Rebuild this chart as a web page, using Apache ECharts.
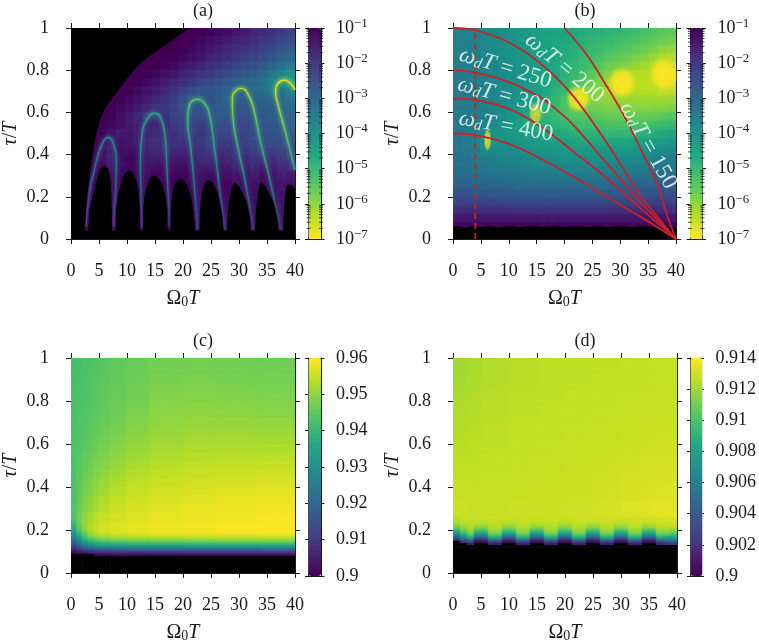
<!DOCTYPE html>
<html><head><meta charset="utf-8">
<style>html,body{margin:0;padding:0;background:#fff}#c{width:759px;height:644px}</style>
<script src="https://cdn.jsdelivr.net/npm/echarts@6/dist/echarts.min.js"></script>
</head><body><div id="c"></div>
<script>
// ---------- DATA ----------
const titles=['(a)','(b)','(c)','(d)'];
// common column edges of panels a and b
const xEdgesAB=[0,1.6,3.2,4.8,6.4,8,9.6,11.2,12.8,14.4,16,17.6,19.2,20.8,22.4,24,25.6,27.2,28.8,30.4,32,33.6,35.2,36.8,38.4,40];
const tauEdgesAB=[1,.96,.92,.88,.84,.8,.76,.72,.68,.64,.6,.56,.52,.48,.44,.4,.36,.32,.28,.24,.2,.16,.12,.08,.04,0];
// panel a: -log10(value) times ten, top row first (under 10 = over the scale, covered by the black regions below)
const rowsA=[
[5,5,5,5,5,5,5,5,5,5,5,5,5,10,10,11,12,13,14,15,17,18,19,20,22],
[5,5,5,5,5,5,5,5,5,5,5,5,10,11,12,13,14,15,16,17,18,20,21,23,24],
[5,5,5,5,5,5,5,5,5,5,5,10,11,12,13,14,15,17,18,19,20,22,23,25,27],
[5,5,5,5,5,5,5,5,5,10,10,11,12,13,14,16,17,18,20,21,22,24,26,28,30],
[5,5,5,5,5,5,5,5,10,10,11,12,14,15,16,18,19,21,22,24,25,27,29,31,33],
[5,5,5,5,5,5,5,10,11,12,13,14,16,17,19,20,22,23,25,27,28,30,33,37,40],
[5,5,5,5,5,5,10,11,12,14,15,17,18,20,22,23,25,27,29,30,31,33,38,44,46],
[5,5,5,5,5,10,11,12,14,15,17,19,21,23,26,26,27,30,33,30,32,33,37,35,38],
[5,5,5,5,5,11,12,14,15,17,19,21,25,29,30,26,27,31,31,28,30,30,31,32,34],
[5,5,5,5,10,12,13,15,17,19,20,22,26,27,27,27,28,29,27,27,28,29,29,30,31],
[5,5,5,5,11,13,15,18,22,24,19,23,24,27,25,25,29,28,26,27,27,28,29,31,30],
[5,5,5,10,12,13,15,17,18,18,17,21,23,24,22,24,25,25,25,24,26,28,27,28,30],
[5,5,5,11,14,16,15,16,17,18,18,20,21,23,20,22,24,24,24,23,25,27,26,27,28],
[5,5,5,12,16,14,15,16,18,19,19,20,21,20,21,23,23,22,22,23,24,26,26,25,26],
[5,5,10,13,18,13,14,14,17,19,19,18,18,18,20,22,20,20,21,21,24,23,23,24,24],
[5,5,10,14,18,13,12,13,16,17,17,16,16,16,19,20,17,18,20,18,21,20,20,22,22],
[5,5,10,12,16,14,12,13,15,14,14,14,13,15,17,17,14,16,18,16,19,16,17,19,19],
[5,5,11,10,14,12,11,12,14,11,13,12,12,13,15,13,13,14,15,14,17,13,15,17,15],
[5,5,11,10,13,11,10,11,13,11,11,11,11,12,14,12,12,12,14,13,15,12,13,15,14],
[5,5,11,10,13,12,10,11,13,11,10,11,11,11,14,11,11,12,14,12,14,11,12,15,12],
[5,5,12,10,13,12,10,12,14,10,10,12,12,10,14,12,10,12,14,12,14,11,11,15,11],
[5,5,13,10,13,12,10,12,15,10,10,13,14,10,14,12,10,13,14,12,14,11,11,15,11],
[5,5,14,10,12,12,10,13,15,10,10,14,14,10,15,12,10,14,14,12,14,10,10,15,10],
[5,5,14,10,12,12,10,13,14,10,10,13,13,10,14,11,10,13,13,11,13,10,10,14,10],
[5,5,5,5,5,5,5,5,5,5,5,5,5,5,5,5,5,5,5,5,5,5,5,5,5]];
// panel a: black regions and bright ridges, [Omega0 T, tau/T]
const blackTopA=[[0,0],[2.4,0],[2.5,.05],[2.9,.2],[3.55,.34],[4.2,.46],[5.05,.55],[5.95,.61],[7.2,.66],[9.5,.74],[12.3,.83],[15,.885],[18,.94],[21.8,1],[22,1]];
const domesA=[[0,.04],[2.9,.04],[3.27,.137],[4.05,.218],[4.76,.295],[5.35,.337],[5.96,.35],[6.55,.335],[6.96,.295],[7.2,.218],[7.3,.137],[7.4,.04],[8,.04],[8.05,.137],[8.5,.218],[9.2,.285],[9.8,.315],[10.4,.325],[11,.315],[11.7,.27],[12.1,.218],[12.3,.137],[12.4,.04],[12.8,.04],[12.9,.137],[13.2,.218],[13.8,.27],[14.4,.295],[14.9,.3],[15.5,.29],[16.2,.26],[16.8,.218],[17.2,.137],[17.3,.04],[17.7,.04],[17.8,.137],[18.1,.218],[18.6,.26],[19.2,.28],[19.6,.285],[20.3,.275],[21,.24],[21.6,.18],[22.1,.08],[22.2,.04],[22.9,.04],[23,.13],[23.3,.2],[23.8,.26],[24.5,.28],[25.2,.27],[26,.23],[26.6,.17],[27.1,.1],[27.3,.04],[27.8,.04],[27.9,.1],[28.2,.17],[28.7,.24],[29.2,.267],[30,.25],[30.8,.21],[31.4,.17],[32,.1],[32.2,.04],[32.8,.04],[33,.12],[33.3,.2],[33.9,.265],[34.7,.25],[35.7,.2],[36.4,.16],[36.9,.09],[37.2,.04],[37.8,.04],[37.9,.09],[38.1,.17],[38.4,.24],[38.8,.26],[39.5,.255],[40,.245]];
const ridge1=[[2.68,.058],[3.27,.216],[4.17,.327],[5.36,.438],[6.73,.482],[7.62,.446],[8.1,.374],[8.04,.264],[7.74,.138],[7.62,.058]];
const ridge2=[[12.62,.058],[12.5,.216],[12.4,.374],[12.7,.5],[13.7,.572],[14.88,.596],[16.07,.572],[16.85,.469],[17.14,.327],[17.38,.2],[17.56,.058]];
const ridge3=[[22.6,.043],[22.03,.248],[21.43,.422],[20.83,.564],[21.07,.628],[22.6,.662],[24.05,.635],[24.82,.58],[25.6,.438],[26.49,.248],[27.5,.043]];
const ridge4=[[32.56,.043],[31.07,.28],[29.88,.422],[28.87,.596],[28.81,.667],[29.58,.706],[30.48,.714],[31.67,.683],[32.74,.604],[33.75,.47],[35.24,.311],[36.43,.17],[37.5,.043]];
const ridge5=[[39.99,.327],[38.2,.516],[36.9,.643],[36.54,.698],[37,.738],[38.1,.753],[39.1,.74],[40,.706]];
const ridgeColors=[['#2a8a8c','#35608d','#5a2e8f'],['#27a884','#2a788e','#4b2d87'],['#5ac864','#26a085','#2a6f8e','#4b2d87'],['#b5de2b','#3fbc73','#277f8e','#482878'],['#f0e51e','#6ece58','#2a9a8a']];
// panel b: same encoding as panel a
const rowsB=[
[37,37,38,38,39,40,41,42,43,44,45,45,46,46,47,48,48,49,49,50,51,52,53,54,55],
[36,37,38,38,39,40,41,42,43,44,45,46,46,47,48,49,50,50,51,52,53,54,55,56,57],
[36,37,37,38,39,40,41,42,43,44,45,46,47,48,49,50,51,52,53,54,55,56,57,59,60],
[36,36,37,38,39,40,41,42,43,44,45,46,47,48,50,51,52,54,55,56,57,58,60,62,63],
[36,36,37,37,38,39,40,41,43,44,45,46,48,49,51,52,54,56,57,58,60,61,63,65,66],
[35,36,36,37,38,39,40,41,42,44,45,46,48,50,52,54,56,58,60,62,63,63,64,66,67],
[35,35,36,37,38,39,40,41,42,44,45,47,49,51,54,56,58,61,64,65,64,64,64,66,67],
[35,35,36,37,38,39,40,41,43,44,46,48,50,53,56,58,60,62,64,64,64,64,64,65,65],
[35,35,36,37,38,39,40,42,43,45,47,49,52,57,60,60,60,61,62,62,62,62,62,62,62],
[35,35,36,37,38,39,41,42,44,47,49,50,53,57,58,58,58,59,59,60,60,60,60,60,59],
[35,35,36,37,38,40,41,43,46,50,50,51,53,55,55,55,56,57,57,57,57,57,57,56,55],
[35,35,36,37,38,41,42,44,47,49,48,49,51,52,53,53,53,54,54,54,54,54,53,52,51],
[34,35,36,38,40,41,42,44,45,46,46,47,48,49,50,50,50,51,51,51,50,50,49,48,46],
[34,35,37,41,43,41,41,42,43,44,44,45,45,46,47,47,47,47,47,47,46,46,45,44,42],
[34,35,36,40,40,40,40,41,41,42,42,43,43,43,43,43,43,43,43,43,42,42,41,40,39],
[33,34,35,36,37,38,38,39,39,40,40,40,41,41,41,41,41,41,40,40,40,39,38,37,36],
[33,33,34,35,36,36,37,37,38,38,38,38,39,39,39,39,38,38,38,38,37,37,36,35,34],
[32,32,33,33,34,34,35,35,35,36,36,36,36,36,36,36,36,36,35,35,35,34,33,33,32],
[30,30,31,31,32,32,32,33,33,33,33,33,33,33,33,33,33,33,32,32,32,31,31,30,29],
[27,27,28,28,29,29,29,29,30,30,30,30,30,30,30,30,30,29,29,29,28,28,28,27,27],
[24,24,25,25,25,26,26,26,26,26,26,26,26,26,26,26,26,26,25,25,25,25,24,24,24],
[20,20,21,21,21,21,21,22,22,22,22,22,22,22,22,22,22,21,21,21,21,21,20,20,20],
[15,15,15,16,16,16,16,16,16,16,16,16,16,16,16,16,16,16,16,16,16,15,15,15,15],
[11,11,11,11,11,11,11,11,11,11,11,11,11,11,11,11,11,11,11,11,11,11,11,11,11],
[5,5,5,5,5,5,5,5,5,5,5,5,5,5,5,5,5,5,5,5,5,5,5,5,5]];
const blackB=[[0,.058],[1,.06],[2.2,.055],[3.5,.062],[5,.056],[6.5,.062],[8,.056],[10,.062],[12,.056],[14,.062],[16,.057],[18,.062],[20,.057],[22,.062],[24,.057],[26,.062],[28,.057],[30,.062],[32,.057],[34,.062],[36,.057],[38,.06],[40,.055]];
const blobsB=[[30.3,.74,30,33,1],[37.8,.78,30,36,1],[22.5,.665,26,28,.9],[14.8,.595,14,24,.7],[6.2,.47,8,24,.8]];
const curve150=[[20,1],[24,.873],[27.6,.723],[30.6,.588],[33.6,.43],[36.6,.264],[38.3,.12],[40,0]];
const curve200=[[0,1],[4,.989],[9.7,.936],[15.6,.834],[21.6,.676],[27.6,.455],[33.6,.209],[40,0]];
const curve250=[[0,.8],[3.7,.79],[9.7,.747],[15.6,.672],[18.6,.612],[21.6,.54],[27.6,.358],[33.6,.176],[40,0]];
const curve300=[[0,.665],[3.7,.66],[9.7,.62],[15.6,.536],[21.6,.414],[27.6,.288],[33.6,.146],[40,0]];
const curve400=[[0,.5],[3.7,.494],[9.7,.454],[15.6,.383],[21.6,.296],[27.6,.2],[33.6,.106],[40,0]];
const dashedB=[[4,0],[4,1]];
const labelsB=[[35,.443,-61,'150'],[20,.81,-40,'200'],[9.4,.81,-17,'250'],[9.2,.677,-15,'300'],[9.5,.533,-10,'400']];
// panel c: (value - 0.9) * 10000, top row first (negative = under the scale = black)
const xEdgesC=[0,1,2,3,4,5,7,10,14,20,26,33,40];
const tauEdgesCUpper=[1,.96,.92,.88,.84,.8,.76,.72,.68,.64,.6,.56,.52,.48,.44,.4,.36,.32,.28,.24];
const rowsCUpper=[
[422,426,430,434,438,444,452,462,472,476,472,468],
[423,427,431,435,439,445,454,464,475,478,475,471],
[424,428,432,436,440,447,456,467,478,481,478,475],
[425,429,433,437,442,449,458,470,482,485,482,479],
[426,431,435,439,444,451,460,473,487,489,487,483],
[427,432,437,441,446,453,463,477,491,494,492,488],
[428,434,439,444,449,456,467,482,496,499,498,494],
[429,435,441,447,452,460,472,487,501,505,504,501],
[430,437,443,449,456,465,477,492,506,511,511,508],
[431,438,446,453,461,471,484,498,512,518,519,517],
[431,440,449,458,466,477,491,505,519,525,527,526],
[431,442,452,462,472,484,498,513,526,532,535,535],
[431,444,456,467,479,491,506,521,534,540,544,545],
[430,446,460,473,486,499,515,530,542,549,553,555],
[429,448,465,480,494,508,524,539,550,557,562,565],
[428,452,470,487,502,516,533,548,558,565,570,574],
[428,456,477,496,511,525,542,556,566,572,578,582],
[428,462,486,505,520,534,550,564,573,579,584,588],
[424,466,497,518,534,547,560,571,579,584,589,593]];
const tauEdgesCLower=[.24,.23,.22,.21,.2,.19,.18,.17,.16,.15,.14,.13,.12,.11,.1,.09,.08,0];
const rowsCLower=[
[415,470,505,530,545,558,568,575,582,588,592,596],
[405,465,505,530,548,560,572,580,586,590,595,598],
[390,455,500,530,550,562,574,582,588,592,597,600],
[375,445,495,528,550,562,575,583,588,592,596,600],
[355,430,485,520,545,558,572,580,585,590,594,597],
[330,410,470,510,535,550,564,572,578,583,588,590],
[300,385,450,495,520,535,550,558,565,570,574,576],
[270,350,425,470,495,510,525,535,540,546,550,552],
[240,315,390,435,460,475,490,498,505,510,515,517],
[205,275,345,390,415,430,445,452,458,464,468,470],
[170,235,295,340,365,380,393,400,405,410,414,416],
[130,190,240,285,310,320,330,335,340,345,348,350],
[90,140,180,220,240,250,255,260,265,268,270,272],
[50,90,120,150,165,172,178,182,185,188,190,192],
[15,30,50,70,85,92,96,100,102,104,105,106],
[-1,-1,-1,-1,15,22,25,25,25,25,25,25],
[-1,-1,-1,-1,-1,-1,-1,-1,-1,-1,-1,-1]];
// panel d: (value - 0.9) * 10000
const xEdgesDUpper=[0,2.5,5,10,15,20,25,30,35,40];
const tauEdgesDUpper=[1,.926,.852,.778,.704,.63,.556,.482,.408,.334,.26];
const rowsDUpper=[
[120,122,124,125,126,126,126,127,127],
[121,122,124,125,126,126,127,127,127],
[122,123,125,126,126,127,127,127,128],
[123,124,125,126,127,127,127,128,128],
[124,125,126,127,127,127,128,128,129],
[125,126,126,127,127,128,128,129,130],
[126,126,127,127,128,128,129,130,131],
[127,127,127,128,128,129,130,131,132],
[128,128,128,128,129,129,130,132,133],
[129,128,128,129,129,130,131,133,134]];
const xEdgesDLower=[0,1.25,2.5,3.75,5,6.25,7.5,8.75,10,11.25,12.5,13.75,15,16.25,17.5,18.75,20,21.25,22.5,23.75,25,26.25,27.5,28.75,30,31.25,32.5,33.75,35,36.25,37.5,38.75,40];
const tauEdgesDLower=[.26,.25,.24,.23,.22,.21,.2,.19,.18,.17,.16,.15,.14,.13,.12,0];
const rowsDLower=[
[126,128,129,128,128,129,129,128,128,129,129,128,128,129,129,129,129,129,130,129,129,130,130,130,130,130,131,130,131,131,132,133],
[124,127,128,128,128,128,128,128,128,128,128,128,128,128,129,128,128,129,129,129,129,129,130,129,130,130,131,130,130,131,131,131],
[122,126,127,126,126,127,127,126,126,127,127,126,126,127,128,126,126,128,128,127,127,128,128,127,128,128,129,128,128,130,130,130],
[118,124,126,123,122,126,126,122,122,126,126,122,122,126,126,122,122,126,127,122,122,127,127,123,123,127,128,123,123,128,128,128],
[112,120,124,118,118,124,124,118,118,124,124,118,118,124,124,118,118,124,124,118,118,124,125,118,119,125,125,119,119,126,126,125],
[104,115,122,111,110,122,122,110,110,121,122,110,111,122,122,110,110,122,122,110,111,122,122,111,111,122,122,111,111,123,122,120],
[90,107,118,99,98,118,118,98,98,118,118,98,98,118,118,98,98,118,118,98,98,118,118,98,98,118,118,98,98,119,118,114],
[74,98,112,85,85,112,112,85,85,112,112,85,85,112,112,85,85,112,112,85,85,112,112,85,85,112,112,86,86,112,112,106],
[60,85,103,68,68,103,103,68,68,103,103,68,68,103,103,68,68,103,103,68,68,103,103,68,68,103,103,68,68,103,101,96],
[44,70,90,50,50,90,90,50,50,90,90,50,50,90,90,50,50,90,90,50,50,90,90,50,50,90,90,50,50,90,85,84],
[22,50,65,25,25,65,65,25,25,65,65,25,25,65,65,25,25,65,65,25,25,65,65,25,25,65,65,25,25,62,66,66],
[-1,22,35,5,5,35,35,5,5,35,35,5,5,35,35,5,5,35,35,5,5,35,35,5,5,35,35,5,5,35,42,46],
[-1,-1,10,-1,-1,10,10,-1,-1,10,10,-1,-1,10,10,-1,-1,10,10,-1,-1,10,10,-1,-1,10,10,-1,-1,12,18,24],
[-1,-1,-1,-1,-1,-1,-1,-1,-1,-1,-1,-1,-1,-1,-1,-1,-1,-1,-1,-1,-1,-1,-1,-1,-1,-1,-1,-1,-1,-1,-1,-1],
[-1,-1,-1,-1,-1,-1,-1,-1,-1,-1,-1,-1,-1,-1,-1,-1,-1,-1,-1,-1,-1,-1,-1,-1,-1,-1,-1,-1,-1,-1,-1,-1]];
const logOffsets=[.301,.477,.602,.699,.778,.845,.903,.954];

// ---------- BUILD ----------
const FONT='"Liberation Serif",serif', INK='#1a1a1a';
const viridis=['#440154','#482475','#414487','#355f8d','#2a788e','#21918c','#22a884','#44bf70','#7ad151','#bddf26','#fde725'];
const layout=[
 {l:71,t:28,w:224,h:211,bl:308.5,bw:12.5,tc:198},
 {l:453,t:28,w:223,h:211,bl:690,bw:12.5,tc:580},
 {l:71,t:358,w:224,h:218,bl:308.5,bw:12.5,tc:198},
 {l:453,t:358,w:224,h:218,bl:690.5,bw:12,tc:580}];
const expVal=n=>-n/10, fidVal=n=>+(0.9+n/10000).toFixed(4);
function cells(xe,te,rows,f){const out=[];rows.forEach((r,j)=>r.forEach((n,i)=>out.push([xe[i],xe[i+1],te[j+1],te[j],f(n)])));return out;}
const heat=[
 cells(xEdgesAB,tauEdgesAB,rowsA,expVal),
 cells(xEdgesAB,tauEdgesAB,rowsB,expVal),
 cells(xEdgesC,tauEdgesCUpper,rowsCUpper,fidVal).concat(cells(xEdgesC,tauEdgesCLower,rowsCLower,fidVal)),
 cells(xEdgesDUpper,tauEdgesDUpper,rowsDUpper,fidVal).concat(cells(xEdgesDLower,tauEdgesDLower,rowsDLower,fidVal))];
const scales=[[-7,-1,1],[-7,-1,1],[.9,.96,.01],[.9,.914,.002]];
const grid=[],xAxis=[],yAxis=[],series=[],visualMap=[],title=[];
const axisLine={show:true,onZero:false,lineStyle:{color:INK,width:1}};
const tick={show:true,length:5,lineStyle:{color:INK,width:1}};
const label={fontFamily:FONT,fontSize:18,color:INK};
const nameRich={i:{fontFamily:FONT,fontSize:20,fontStyle:'italic',color:INK},n:{fontFamily:FONT,fontSize:20,color:INK},s:{fontFamily:FONT,fontSize:14,color:INK,verticalAlign:'bottom',lineHeight:12,padding:[8,0,0,0]}};
layout.forEach((g,k)=>{
  title.push({text:titles[k],left:g.tc,top:g.t-31,textAlign:'center',textStyle:{fontFamily:FONT,fontSize:18,fontWeight:'normal',color:INK}});
  grid.push({left:g.l,top:g.t,width:g.w,height:g.h,show:false});
  const gi=grid.length-1, xi=xAxis.length, yi=yAxis.length;
  xAxis.push({gridIndex:gi,type:'value',min:0,max:40,interval:5,position:'bottom',axisLine,axisTick:tick,splitLine:{show:false},
    axisLabel:{...label,margin:23},name:'{n|Ω}{s|0}{i|T}',nameLocation:'middle',nameGap:50,nameTextStyle:{rich:nameRich}});
  xAxis.push({gridIndex:gi,type:'value',min:0,max:40,interval:5,position:'top',axisLine,axisTick:tick,splitLine:{show:false},axisLabel:{show:false}});
  yAxis.push({gridIndex:gi,type:'value',min:0,max:1,interval:.2,position:'left',axisLine,axisTick:tick,splitLine:{show:false},
    axisLabel:{...label,margin:22},name:'{i|τ}{n|/}{i|T}',nameLocation:'middle',nameGap:50,nameRotate:90,nameTextStyle:{rich:nameRich}});
  yAxis.push({gridIndex:gi,type:'value',min:0,max:1,interval:.2,position:'right',axisLine,axisTick:tick,splitLine:{show:false},axisLabel:{show:false}});
  const refs={xAxisIndex:xi,yAxisIndex:yi};
  const [mn,mx,iv]=scales[k];
  const soft=k<2?1.5:1.1;
  series.push({type:'custom',...refs,z:1,clip:true,data:heat[k],encode:{x:[0,1],y:[2,3]},silent:true,animation:false,
    renderItem(p,api){
      const a=api.coord([api.value(0),api.value(3)]),b=api.coord([api.value(1),api.value(2)]);
      const v=api.value(4), over=v<mn||v>mx;
      // in panel a the exact black outline comes from the area series, so the cells stay purple underneath
      const c=over?(k===0?'#440154':'#000'):api.visual('color');
      const w=b[0]-a[0],h=b[1]-a[1];
      return {type:'rect',shape:{x:a[0],y:a[1],width:w+.6,height:h+.6},style:over?{fill:c}:{fill:c,shadowBlur:Math.min(w,h)*soft,shadowColor:c}};
    }});
  visualMap.push({type:'continuous',seriesIndex:series.length-1,dimension:4,min:mn,max:mx,calculable:false,realtime:false,
    inRange:{color:viridis.slice().reverse().map((c,i,arr)=>k<2?c:arr[arr.length-1-i])},
    left:g.bl,top:g.t,itemWidth:g.bw,itemHeight:g.h,padding:0,text:null,z:1,hoverLink:false});
  // colour bar frame, ticks and labels
  grid.push({left:g.bl,top:g.t,width:g.bw,height:g.h,show:false});
  const bg=grid.length-1,bx=xAxis.length,by=yAxis.length;
  const bFmt=k<2?(v=>'{n|10}{s|−'+Math.abs(Math.round(v))+'}'):(v=>String(+v.toFixed(3)));
  xAxis.push({gridIndex:bg,type:'value',min:0,max:1,position:'bottom',axisLine:{show:true,onZero:false,lineStyle:{color:INK,width:1}},axisTick:{show:false},axisLabel:{show:false},splitLine:{show:false}});
  xAxis.push({gridIndex:bg,type:'value',min:0,max:1,position:'top',axisLine:{show:true,onZero:false,lineStyle:{color:INK,width:1}},axisTick:{show:false},axisLabel:{show:false},splitLine:{show:false}});
  yAxis.push({gridIndex:bg,type:'value',min:mn,max:mx,interval:iv,position:'right',axisLine,axisTick:{show:true,length:3.5,lineStyle:{color:INK}},splitLine:{show:false},
    axisLabel:{...label,margin:15,formatter:bFmt,rich:{n:{fontFamily:FONT,fontSize:18,color:INK,lineHeight:22},s:{fontFamily:FONT,fontSize:13,color:INK,verticalAlign:'top',lineHeight:14}}}});
  yAxis.push({gridIndex:bg,type:'value',min:mn,max:mx,interval:iv,position:'left',axisLine,axisTick:{show:true,length:3.5,lineStyle:{color:INK}},splitLine:{show:false},axisLabel:{show:false}});
  if(k<2){
    const minor=[];
    for(let d=-7;d<-1;d++)logOffsets.forEach(o=>{minor.push([0,d+o]);minor.push([1,d+o]);});
    series.push({type:'scatter',xAxisIndex:bx,yAxisIndex:by,data:minor,symbol:'rect',symbolSize:[4,1],itemStyle:{color:INK},silent:true,z:5,clip:false,animation:false});
  }
  g.refs=refs;
});
function line(refs,data,extra){return Object.assign({type:'line',...refs,data,showSymbol:false,symbol:'none',silent:true,animation:false},extra);}
// panel a overlays
const ra=layout[0].refs;
const grad=st=>({type:'linear',x:0,y:0,x2:0,y2:1,colorStops:st.map((c,i)=>({offset:i/(st.length-1),color:c}))});
[ridge1,ridge2,ridge3,ridge4,ridge5].forEach((r,i)=>{
  series.push(line(ra,r,{smooth:.5,z:2,lineStyle:{width:8,opacity:.14,color:grad(ridgeColors[i])}}));
  series.push(line(ra,r,{smooth:.5,z:2,lineStyle:{width:4,opacity:.26,color:grad(ridgeColors[i])}}));
});
series.push(line(ra,domesA,{z:3,smooth:.2,lineStyle:{width:0,color:'#000'},itemStyle:{color:'#000'},areaStyle:{origin:'start',color:'#000',opacity:1}}));
series.push(line(ra,blackTopA,{z:3,smooth:.3,lineStyle:{width:0,color:'#000'},itemStyle:{color:'#000'},areaStyle:{origin:'end',color:'#000',opacity:1}}));
[ridge1,ridge2,ridge3,ridge4,ridge5].forEach((r,i)=>{
  series.push(line(ra,r,{smooth:.5,z:4,lineStyle:{width:1.4,color:grad(ridgeColors[i])}}));
});
// panel b overlays
const rb=layout[1].refs;
series.push({type:'scatter',...rb,z:2,silent:true,animation:false,
  data:blobsB.map(b=>({value:[b[0],b[1],b[2],b[3]],itemStyle:{opacity:b[4]}})),
  symbol:'circle',symbolSize:v=>[v[2],v[3]],itemStyle:{color:{type:'radial',x:.5,y:.5,r:.5,colorStops:[{offset:0,color:'rgba(250,230,35,1)'},{offset:.6,color:'rgba(246,228,38,.92)'},{offset:1,color:'rgba(225,226,45,0)'}]}}});
series.push(line(rb,blackB,{z:3,lineStyle:{width:0,color:'#000'},itemStyle:{color:'#000'},areaStyle:{origin:'start',color:'#000',opacity:1}}));
[curve150,curve200,curve250,curve300,curve400].forEach(c=>series.push(line(rb,c,{z:4,smooth:.35,lineStyle:{width:1.8,color:'#c8202c'}})));
series.push(line(rb,dashedB,{z:4,lineStyle:{width:1.8,type:[6,4],color:'#c8202c'}}));
const lblRich={w:{fontFamily:FONT,fontSize:23,fontStyle:'italic',color:'#fff'},s:{fontFamily:FONT,fontSize:15,fontStyle:'italic',color:'#fff',verticalAlign:'bottom',lineHeight:14,padding:[8,0,0,0]},n:{fontFamily:FONT,fontSize:23,color:'#fff'}};
series.push({type:'scatter',...rb,z:5,silent:true,animation:false,symbolSize:0,
  data:labelsB.map(a=>({value:[a[0],a[1]],label:{show:true,position:'inside',rotate:a[2],rich:lblRich,formatter:'{w|ω}{s|d}{w|T}{n| = '+a[3]+'}'}}))});

const chart=echarts.init(document.getElementById('c'),null,{renderer:'canvas'});
chart.setOption({animation:false,backgroundColor:'#fff',title,grid,xAxis,yAxis,visualMap,series,tooltip:{show:false}});
</script></body></html>
